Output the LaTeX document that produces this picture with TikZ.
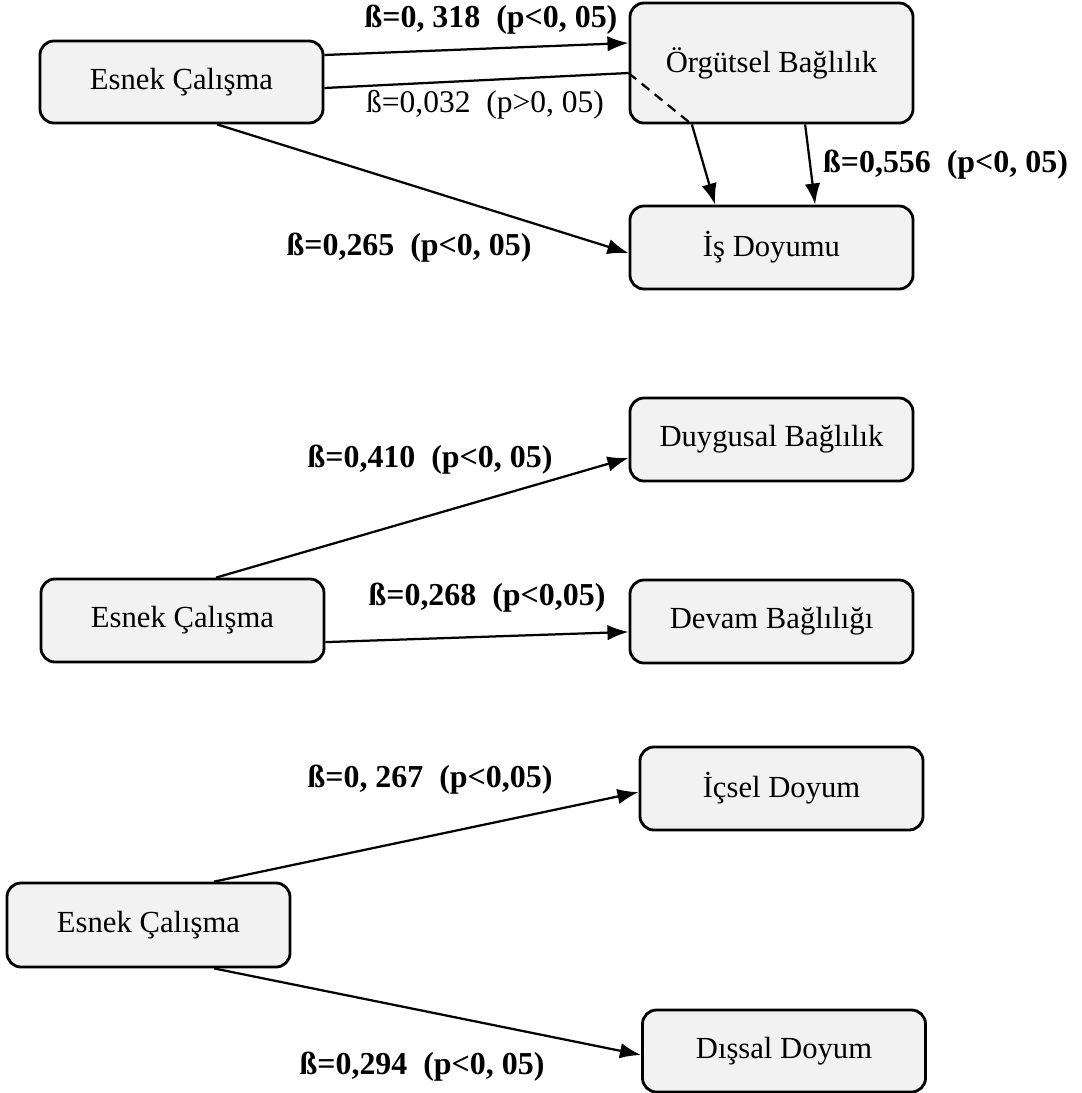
\documentclass[tikz,border=0pt]{standalone}
\usepackage{fontspec}
\setmainfont{Liberation Serif}
\usepackage{tikz}
\usetikzlibrary{arrows.meta}
\definecolor{boxgray}{RGB}{242,242,242}

\begin{document}
\begin{tikzpicture}[x=0.025cm,y=-0.025cm,>={Latex[length=15pt,width=11pt]},line width=1.6pt]
\tikzstyle{box} = [rectangle, rounded corners=10pt, draw=black, line width=2pt, fill=boxgray, minimum width=7.075cm, minimum height=2.075cm, font=\fontsize{21.8}{25}\selectfont]
\tikzstyle{arrow} = [->]
\tikzstyle{beta} = [font=\bfseries\fontsize{22.7}{26}\selectfont]
\tikzstyle{betans} = [font=\fontsize{22.4}{26}\selectfont]

\useasboundingbox (0,0) rectangle (1081,1093);

% first model
\node (esnek1) at (181.5,82) [box, minimum height=2.05cm] {Esnek Çalışma};
\node (orgut) at (771.5,63) [box, minimum height=3cm] {Örgütsel Bağlılık};
\node (isdoy) at (771.5,247.5) [box] {İş Doyumu};

\coordinate (med1) at ([yshift=-0.25cm]orgut.west);
\coordinate (med2) at ([xshift=-1.99cm]orgut.south);

\draw [arrow] ([yshift=0.675cm]esnek1.east) -- ([yshift=0.5cm]orgut.west);
\draw (esnek1.east |- 0,88) -- (med1);
\draw [dashed, dash pattern=on 7pt off 5pt] (med1) -- (med2);
\draw [arrow] (med2) -- ([xshift=-1.41cm]isdoy.north);
\draw [arrow] ([xshift=0.84cm]orgut.south) -- ([xshift=1.09cm]isdoy.north);
\draw [arrow] ([xshift=0.89cm]esnek1.south) -- ([yshift=-0.14cm]isdoy.west);

\node (b318) at (491,20) [beta] {ß=0, 318~~(p<0, 05)};
\node (b032) at (485,105) [betans] {ß=0,032~~(p>0, 05)};
\node (b556) at (945.5,165) [beta] {ß=0,556~~(p<0, 05)};
\node (b265) at (409,248) [beta] {ß=0,265~~(p<0, 05)};

% second model
\node (esnek2) at (182.5,620.5) [box] {Esnek Çalışma};
\node (duygu) at (771.5,439.5) [box] {Duygusal Bağlılık};
\node (devam) at (771.5,621.5) [box] {Devam Bağlılığı};

\draw [arrow] ([xshift=0.84cm]esnek2.north) -- ([yshift=-0.46cm]duygu.west);
\draw [arrow] ([yshift=-0.54cm]esnek2.east) -- ([yshift=-0.26cm]devam.west);

\node (b410) at (430,460) [beta] {ß=0,410~~(p<0, 05)};
\node (b268) at (487,598) [beta] {ß=0,268~~(p<0,05)};

% third model
\node (esnek3) at (148.5,925) [box, minimum height=2.1cm] {Esnek Çalışma};
\node (icsel) at (781.5,788.5) [box] {İçsel Doyum};
\node (dissal) at (784,1051) [box, minimum height=2.05cm] {Dışsal Doyum};

\draw [arrow] ([xshift=1.64cm]esnek3.north) -- ([yshift=-0.09cm]icsel.west);
\draw [arrow] ([xshift=1.64cm]esnek3.south) -- ([yshift=-0.1cm]dissal.west);

\node (b267) at (430,780) [beta] {ß=0, 267~~(p<0,05)};
\node (b294) at (422,1067) [beta] {ß=0,294~~(p<0, 05)};

\end{tikzpicture}
\end{document}
